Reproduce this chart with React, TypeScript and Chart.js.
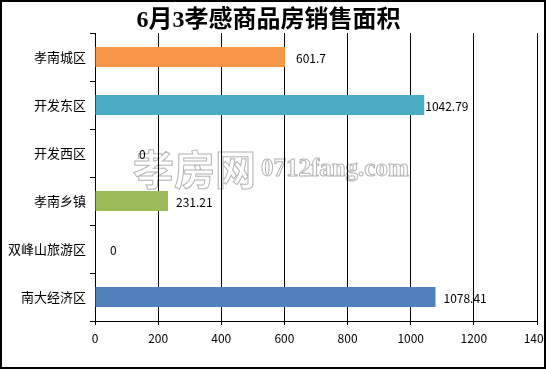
import { useEffect, useRef } from 'react';
import { Chart, registerables } from 'chart.js';

Chart.register(...registerables);

const chartTitle = '6月3孝感商品房销售面积';
const categories = ['孝南城区', '开发东区', '开发西区', '孝南乡镇', '双峰山旅游区', '南大经济区'];
const areaValues = [601.7, 1042.79, 0, 231.21, 0, 1078.41];
const valueLabels = ['601.7', '1042.79', '0', '231.21', '0', '1078.41'];
const xTicks = [0, 200, 400, 600, 800, 1000, 1200, 1400];
const watermarkMain = '孝房网';
const watermarkSub = '0712fang.com';

// styling
const barColors = ['#F79646', '#4BACC6', '#C0504D', '#9BBB59', '#8064A2', '#4F81BD'];
const labelOffsets = [11, 1, 44, 8, 15, 8];
const CJK = "'Noto Sans CJK SC', 'Noto Sans', sans-serif";

const decorPlugin = {
  id: 'decor',
  beforeDraw(chart: any) {
    const ctx = chart.ctx;
    const xs = chart.scales.x;
    const ys = chart.scales.y;
    ctx.save();
    const wx = xs.getPixelForValue(120);
    const wy = (ys.getPixelForValue(2) + ys.getPixelForValue(3)) / 2 - 8;
    ctx.textBaseline = 'middle';
    ctx.textAlign = 'left';
    ctx.lineWidth = 1;
    ctx.strokeStyle = '#b4b4b4';
    ctx.fillStyle = '#ffffff';
    ctx.font = `bold 41px ${CJK}`;
    ctx.fillText(watermarkMain, wx, wy);
    ctx.strokeText(watermarkMain, wx, wy);
    const w1 = ctx.measureText(watermarkMain).width;
    ctx.font = `bold 25px 'Liberation Serif', serif`;
    ctx.fillText(watermarkSub, wx + w1 + 5, wy + 1);
    ctx.strokeText(watermarkSub, wx + w1 + 5, wy + 1);
    ctx.restore();
  },
  afterDatasetsDraw(chart: any) {
    const ctx = chart.ctx;
    const meta = chart.getDatasetMeta(0);
    ctx.save();
    ctx.font = `12px ${CJK}`;
    ctx.fillStyle = '#000';
    ctx.textAlign = 'left';
    ctx.textBaseline = 'middle';
    meta.data.forEach((el: any, i: number) => {
      ctx.fillText(valueLabels[i], el.x + labelOffsets[i], el.y + 1);
    });
    ctx.restore();
  },
  afterDraw(chart: any) {
    const ctx = chart.ctx;
    ctx.save();
    ctx.lineWidth = 2;
    ctx.strokeStyle = '#000';
    ctx.strokeRect(1, 1, chart.width - 2, chart.height - 2);
    ctx.restore();
  },
};

export default function App() {
  const ref = useRef<HTMLCanvasElement | null>(null);

  useEffect(() => {
    document.body.style.margin = '0';
    const canvas = ref.current;
    if (!canvas) return;
    const chart = new Chart(canvas, {
      type: 'bar',
      data: {
        labels: categories,
        datasets: [
          {
            data: areaValues,
            backgroundColor: barColors,
            borderWidth: 0,
            barPercentage: 0.42,
            categoryPercentage: 1,
          },
        ],
      },
      options: {
        indexAxis: 'y',
        responsive: false,
        animation: false,
        devicePixelRatio: 1,
        layout: { padding: { left: 0, right: 9, top: 0, bottom: 0 } },
        plugins: {
          legend: { display: false },
          tooltip: { enabled: false },
          title: {
            display: true,
            text: chartTitle,
            color: '#000',
            font: { size: 24, weight: 'bold', family: `'Liberation Serif', ${CJK}`, lineHeight: 1 },
            padding: { top: 9, bottom: 0 },
          },
        },
        scales: {
          x: {
            min: 0,
            max: 1400,
            afterBuildTicks: (scale: any) => {
              scale.ticks = xTicks.map((v) => ({ value: v }));
            },
            afterFit: (scale: any) => {
              scale.height = 48;
              scale.paddingLeft = 0;
              scale.paddingRight = 0;
            },
            ticks: {
              color: '#000',
              font: { size: 12, family: CJK },
              padding: 6,
              maxRotation: 0,
              autoSkip: false,
              callback: (v: any) => String(v),
            },
            grid: { color: '#000', lineWidth: 1, tickLength: 4 },
            border: { color: '#000', width: 1 },
          },
          y: {
            afterFit: (scale: any) => {
              scale.width = 95;
            },
            ticks: {
              color: '#000',
              font: { size: 13, family: CJK },
              padding: 4,
            },
            grid: { drawOnChartArea: false, color: '#000', tickLength: 5 },
            border: { color: '#000', width: 1 },
          },
        },
      },
      plugins: [decorPlugin],
    });
    return () => chart.destroy();
  }, []);

  return <canvas ref={ref} width={546} height={369} style={{ display: 'block', width: 546, height: 369 }} />;
}
